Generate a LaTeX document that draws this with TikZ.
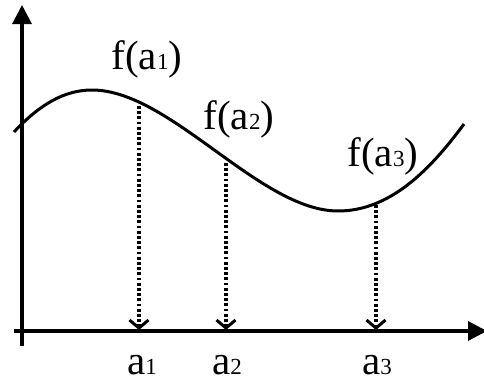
\documentclass[tikz,border=0pt]{standalone}
\usepackage{fontspec}
\setmainfont{Liberation Serif}
\usepackage{tikz}
\usetikzlibrary{arrows.meta}
\newcommand{\idx}[1]{{\fontsize{23}{23}\selectfont #1}}

\begin{document}
\begin{tikzpicture}[
    x=1pt, y=-1pt,
    axis/.style={line width=3.2pt, -{Triangle[length=19pt, width=19pt]}},
    curve/.style={line width=3pt},
    drop/.style={line width=3.6pt, dash pattern=on 2.8pt off 2.4pt,
                 -{Straight Barb[length=8pt, width=19pt, line width=3pt]}},
    lbl/.style={font=\fontsize{41}{43}\selectfont, inner sep=0pt}
  ]
  \useasboundingbox (0,0) rectangle (484,383);
  % axes
  \coordinate (ybot) at (22,346);
  \coordinate (ytop) at (22,5);
  \coordinate (xl)   at (14,331);
  \coordinate (xr)   at (487,331);
  \draw[axis] (ybot) -- (ytop);
  \draw[axis] (xl) -- (xr);
  % the function
  \draw[curve] (14,132) .. controls (40,104) and (65,90) .. (92,90)
               .. controls (170,90) and (260,211) .. (338,211)
               .. controls (390,211) and (430,170) .. (464,124);
  % points on the curve and on the axis
  \coordinate (p1) at (139,106);
  \coordinate (p2) at (226,163);
  \coordinate (p3) at (376,205);
  \coordinate (q1) at (139,330);
  \coordinate (q2) at (226,330);
  \coordinate (q3) at (376,330);
  \draw[drop] (p1) -- (q1);
  \draw[drop] (p2) -- (q2);
  \draw[drop] (p3) -- (q3);
  % labels
  \node[lbl] (fa1) at (147,59)  {f(a\idx{1})};
  \node[lbl] (fa2) at (239,119) {f(a\idx{2})};
  \node[lbl] (fa3) at (383,156) {f(a\idx{3})};
  \node[lbl] (a1)  at (142,365) {a\idx{1}};
  \node[lbl] (a2)  at (227,365) {a\idx{2}};
  \node[lbl] (a3)  at (377,365) {a\idx{3}};
\end{tikzpicture}
\end{document}
